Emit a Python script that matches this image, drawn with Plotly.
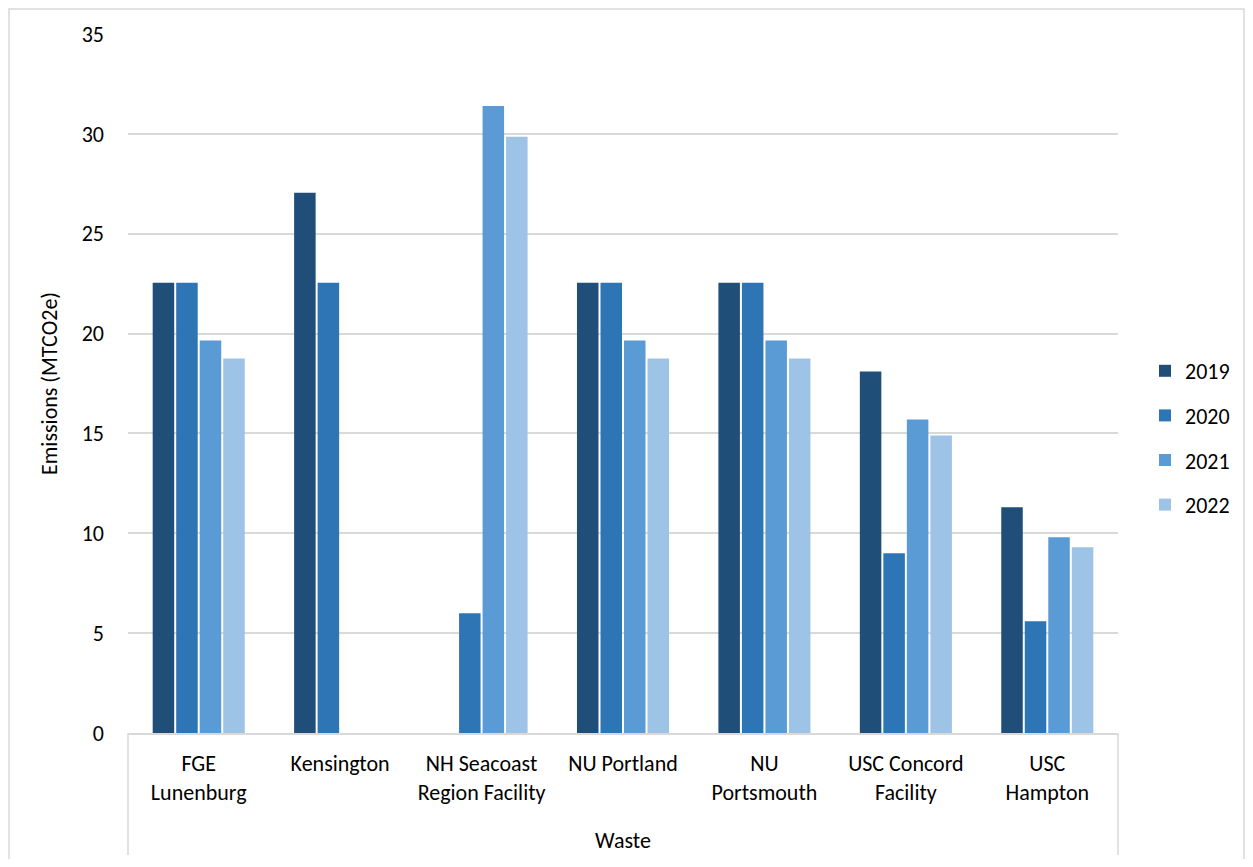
import plotly.graph_objects as go

categories = ["FGE<br>Lunenburg", "Kensington", "NH Seacoast<br>Region Facility", "NU Portland",
              "NU<br>Portsmouth", "USC Concord<br>Facility", "USC<br>Hampton"]
years = ["2019", "2020", "2021", "2022"]
v2019 = [22.55, 27.05, None, 22.55, 22.55, 18.1, 11.3]
v2020 = [22.55, 22.55, 6.0, 22.55, 22.55, 9.0, 5.6]
v2021 = [19.65, None, 31.4, 19.65, 19.65, 15.7, 9.8]
v2022 = [18.75, None, 29.85, 18.75, 18.75, 14.9, 9.3]
colors = ["#1F4E79", "#2E75B6", "#5B9BD5", "#9DC3E6"]
y_ticks = [0, 5, 10, 15, 20, 25, 30, 35]

FONT = "Carlito, Lato, 'Liberation Sans', Arial, sans-serif"
FS = 22

fig = go.Figure()
for name, vals, col in zip(years, [v2019, v2020, v2021, v2022], colors):
    fig.add_trace(go.Bar(x=categories, y=vals, name=name, marker_color=col,
                         marker_line_width=0, legendgroup=name))

# page has an 8px body margin; work in page pixel coordinates and shift
OFF = 8
W, H = 1253 - 2 * OFF, 867 - 2 * OFF
L, R, T, B = 128 - OFF, 1118 - OFF, 34 - OFF, 733 - OFF
pw, ph = R - L, B - T

def px_x(p):
    return (p - OFF - L) / pw

def px_y(p):
    return (B - (p - OFF)) / ph

fig.update_layout(
    width=W, height=H,
    margin=dict(l=L, r=W - R, t=T, b=H - B, autoexpand=False),
    paper_bgcolor="white", plot_bgcolor="white",
    font=dict(family=FONT, size=FS, color="#000000"),
    barmode="group", bargap=0.335, bargroupgap=0.085,
    showlegend=True,
    legend=dict(x=px_x(1145), xanchor="left", y=px_y(438), yanchor="middle",
                font=dict(size=FS), tracegroupgap=13, itemwidth=30,
                bgcolor="rgba(0,0,0,0)"),
    xaxis=dict(showgrid=False, showline=True, linecolor="#d9d9d9", linewidth=1.5,
               ticks="outside", ticklen=10, tickcolor="rgba(0,0,0,0)",
               tickfont=dict(size=FS),
               title=dict(text="Waste", font=dict(size=FS), standoff=28),
               fixedrange=True),
    yaxis=dict(range=[0, 35], tickvals=y_ticks, showgrid=True, gridcolor="#d9d9d9",
               gridwidth=1.5, zeroline=False, showline=False, ticks="",
               tickfont=dict(size=FS), ticklabelstandoff=23,
               title=dict(text="Emissions (MTCO2e)", font=dict(size=FS), standoff=17),
               fixedrange=True),
    shapes=[
        dict(type="line", xref="paper", yref="paper", x0=0, x1=0, y0=0, y1=px_y(855),
             line=dict(color="#d9d9d9", width=1.5)),
        dict(type="line", xref="paper", yref="paper", x0=1, x1=1, y0=0, y1=px_y(855),
             line=dict(color="#d9d9d9", width=1.5)),
        dict(type="rect", xref="paper", yref="paper", x0=px_x(9), x1=px_x(1244),
             y0=px_y(866), y1=px_y(9), line=dict(color="#d9d9d9", width=1.5)),
    ],
)

fig.write_html("out.html")
